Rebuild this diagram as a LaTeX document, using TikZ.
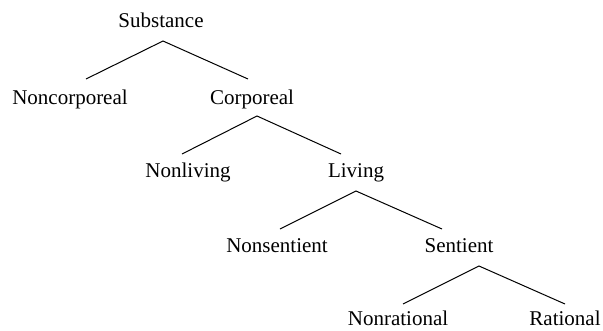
\documentclass[tikz,border=0pt]{standalone}
\usepackage{fontspec}
\setmainfont{Liberation Serif}
\begin{document}
\begin{tikzpicture}[x=1pt,y=-1pt,
  lbl/.style={inner sep=0pt, font=\fontsize{21}{24}\selectfont, anchor=base},
  branch/.style={line width=1pt, black}]
\useasboundingbox (0,0) rectangle (603,330);
\node[lbl] (sub) at (161,27) {Substance};
\node[lbl] (nco) at (70,104) {Noncorporeal};
\node[lbl] (cor) at (252,104) {Corporeal};
\node[lbl] (nli) at (188,177) {Nonliving};
\node[lbl] (liv) at (356,177) {Living};
\node[lbl] (nse) at (277,252) {Nonsentient};
\node[lbl] (sen) at (459,252) {Sentient};
\node[lbl] (nra) at (398,325) {Nonrational};
\node[lbl] (rat) at (565,325) {Rational};
% branch points
\coordinate (a1) at (163,41);
\coordinate (l1) at (86,79);
\coordinate (r1) at (248,79);
\coordinate (a2) at (257,116);
\coordinate (l2) at (182,154);
\coordinate (r2) at (341,154);
\coordinate (a3) at (356,191);
\coordinate (l3) at (280,229);
\coordinate (r3) at (442,229);
\coordinate (a4) at (479,266);
\coordinate (l4) at (403,304);
\coordinate (r4) at (565,304);
\draw[branch] (l1) -- (a1) -- (r1);
\draw[branch] (l2) -- (a2) -- (r2);
\draw[branch] (l3) -- (a3) -- (r3);
\draw[branch] (l4) -- (a4) -- (r4);
\end{tikzpicture}
\end{document}
